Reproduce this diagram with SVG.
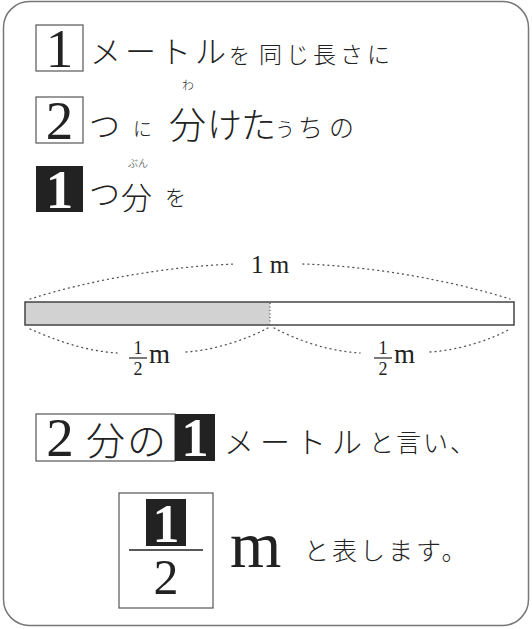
<svg xmlns="http://www.w3.org/2000/svg" width="532" height="629" viewBox="0 0 532 629">
<style>
.jp{font-family:"Noto Sans CJK JP","Noto Sans",sans-serif;fill:#222;font-weight:300}
.num{font-family:"Liberation Serif","DejaVu Serif",serif;fill:#222}
.wnum{font-family:"Liberation Serif","DejaVu Serif",serif;fill:#fff;font-weight:bold}
.box{fill:#fff;stroke:#555;stroke-width:1.2}
.blk{fill:#222}
.dot{fill:none;stroke:#555;stroke-width:1.3;stroke-dasharray:1 4;stroke-linecap:round}
</style>
<rect x="3.5" y="1.5" width="525" height="624" rx="26" fill="#fff" stroke="#777" stroke-width="1.5"/>
<g id="line1">
<rect class="box" x="36" y="25" width="47" height="46"/>
<text class="num" x="59.5" y="67" font-size="55" text-anchor="middle">1</text>
<text class="jp" x="90" y="63" font-size="31" letter-spacing="4">メートル</text>
<text class="jp" x="229" y="63" font-size="21">を</text>
<text class="jp" x="259" y="63" font-size="23" letter-spacing="4">同じ長さに</text>
</g>
<g id="line2">
<rect class="box" x="36" y="97" width="47" height="46"/>
<text class="num" x="59.5" y="139" font-size="55" text-anchor="middle">2</text>
<text class="jp" x="89" y="137" font-size="31">つ</text>
<text class="jp" x="133" y="136" font-size="19">に</text>
<text class="jp" x="182" y="90" font-size="12">わ</text>
<text class="jp" x="169" y="139" font-size="37">分</text>
<text class="jp" x="207" y="138" font-size="35" letter-spacing="-1">けた</text>
<text class="jp" x="275" y="137" font-size="20">う</text>
<text class="jp" x="298" y="137" font-size="25" letter-spacing="6">ちの</text>
</g>
<g id="line3">
<rect class="blk" x="36" y="166" width="47" height="46"/>
<text class="wnum" x="59.5" y="208" font-size="55" text-anchor="middle">1</text>
<text class="jp" x="89" y="205" font-size="31">つ</text>
<text class="jp" x="128" y="167" font-size="10">ぶん</text>
<text class="jp" x="121" y="209" font-size="31">分</text>
<text class="jp" x="165" y="205" font-size="21">を</text>
</g>
<g id="bar">
<rect x="25" y="302" width="245" height="23" fill="#d2d2d3"/>
<rect x="25" y="302" width="489" height="23" fill="none" stroke="#444" stroke-width="1.5"/>
<line x1="270" y1="303" x2="270" y2="325" stroke="#555" stroke-width="1.3" stroke-dasharray="1 2.5"/>
</g>
<g id="connectors">
<path class="dot" d="M 30 299 C 90 280 170 266 236 264"/>
<path class="dot" d="M 303 264 C 370 266 450 280 510 299"/>
<path class="dot" d="M 30 329 C 55 340 85 351 117 353"/>
<path class="dot" d="M 186 352 C 215 350 245 340 268 328"/>
<path class="dot" d="M 274 328 C 297 340 327 351 360 353"/>
<path class="dot" d="M 430 352 C 460 350 490 340 510 329"/>
</g>
<g id="labels">
<text class="num" x="270" y="273" font-size="25" text-anchor="middle">1 m</text>
<text class="num" x="138" y="354" font-size="18" text-anchor="middle">1</text>
<line x1="129" y1="358" x2="147" y2="358" stroke="#222" stroke-width="1.2"/>
<text class="num" x="138" y="375" font-size="18" text-anchor="middle">2</text>
<text class="num" x="149" y="363" font-size="27">m</text>
<text class="num" x="383" y="354" font-size="18" text-anchor="middle">1</text>
<line x1="374" y1="358" x2="392" y2="358" stroke="#222" stroke-width="1.2"/>
<text class="num" x="383" y="375" font-size="18" text-anchor="middle">2</text>
<text class="num" x="394" y="363" font-size="27">m</text>
</g>
<g id="line4">
<rect class="box" x="36" y="414" width="139" height="47"/>
<rect class="blk" x="175" y="414" width="40" height="47"/>
<text class="num" x="60" y="456" font-size="55" text-anchor="middle">2</text>
<text class="jp" x="86" y="455" font-size="39" letter-spacing="2">分の</text>
<text class="wnum" x="195" y="456" font-size="55" text-anchor="middle">1</text>
<text class="jp" x="224" y="453" font-size="30" letter-spacing="6">メートル</text>
<text class="jp" x="369" y="452" font-size="25" letter-spacing="2">と言い、</text>
</g>
<g id="line5">
<rect class="box" x="119" y="493" width="94" height="115"/>
<rect class="blk" x="146" y="499" width="40" height="47"/>
<text class="wnum" x="166" y="542" font-size="54" text-anchor="middle">1</text>
<line x1="129" y1="550" x2="203" y2="550" stroke="#222" stroke-width="1.5"/>
<text class="num" x="166" y="594" font-size="50" text-anchor="middle">2</text>
<text class="num" x="230" y="567" font-size="66">m</text>
<text class="jp" x="304" y="560" font-size="25" letter-spacing="3">と表します。</text>
</g>
</svg>
